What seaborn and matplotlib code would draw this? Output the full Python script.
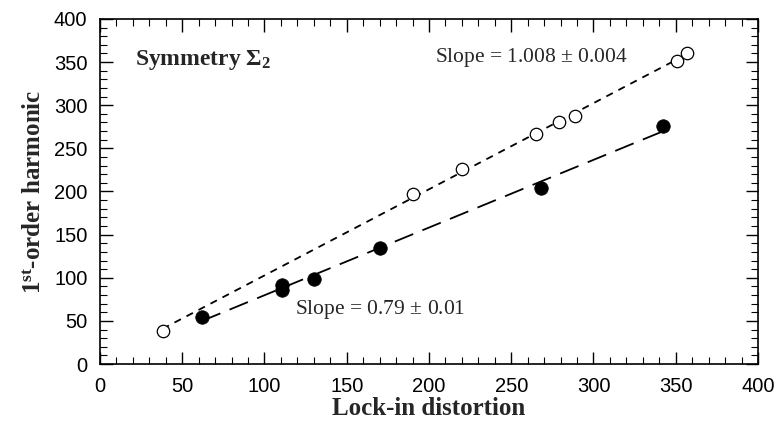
import matplotlib
matplotlib.use("Agg")
import matplotlib.pyplot as plt
import seaborn as sns
import numpy as np
import pandas as pd
from matplotlib.ticker import MultipleLocator

open_x = [38, 190, 220, 265, 279, 289, 351, 357]
open_y = [38, 197, 226, 267, 281, 288, 351, 361]
fill_x = [62, 110.5, 110.5, 130, 170, 268, 342]
fill_y = [54, 86, 92, 98, 135, 204, 276]
xticks = [0, 50, 100, 150, 200, 250, 300, 350, 400]
yticks = [0, 50, 100, 150, 200, 250, 300, 350, 400]

sns.set_theme(style="ticks")
plt.rcParams["font.family"] = ["Liberation Sans", "DejaVu Sans"]
plt.rcParams["mathtext.fontset"] = "custom"
plt.rcParams["mathtext.rm"] = "Liberation Serif"
plt.rcParams["mathtext.bf"] = "Liberation Serif:bold"
plt.rcParams["mathtext.it"] = "Liberation Serif:italic"

df_open = pd.DataFrame({"x": open_x, "y": open_y})
df_fill = pd.DataFrame({"x": fill_x, "y": fill_y})

fig = plt.figure(figsize=(7.77, 4.24), dpi=100)
ax = fig.add_axes([0.1287, 0.1415, 0.8468, 0.8137])

sns.regplot(data=df_open, x="x", y="y", ax=ax, ci=None, scatter=False,
            line_kws=dict(color="black", lw=1.3, dashes=(4, 3.5)))
sns.regplot(data=df_fill, x="x", y="y", ax=ax, ci=None, scatter=False,
            line_kws=dict(color="black", lw=1.3, dashes=(11, 5.5)))
sns.scatterplot(data=df_open, x="x", y="y", ax=ax, s=80, facecolor="white",
                edgecolor="black", linewidth=0.9, zorder=3)
sns.scatterplot(data=df_fill, x="x", y="y", ax=ax, s=95, color="black",
                edgecolor="black", linewidth=0.5, zorder=3)

ax.set_xlim(0, 400)
ax.set_ylim(0, 400)
ax.set_xticks(xticks)
ax.set_yticks(yticks)
ax.xaxis.set_minor_locator(MultipleLocator(10))
ax.yaxis.set_minor_locator(MultipleLocator(10))
ax.tick_params(which="both", direction="in", top=True, right=True, colors="black", labelsize=14.5)
ax.tick_params(axis="x", which="major", pad=9)
ax.tick_params(axis="y", which="major", pad=9)
ax.tick_params(which="major", length=9, width=1)
ax.tick_params(which="minor", length=5, width=0.8)
for sp in ax.spines.values():
    sp.set_linewidth(1.2)
    sp.set_color("black")

ax.set_xlabel("Lock-in distortion", fontfamily="Liberation Serif", fontweight="bold", fontsize=18, labelpad=1)
ax.set_ylabel(r"1$^{\mathbf{st}}$-order harmonic", fontfamily="Liberation Serif", fontweight="bold", fontsize=18, labelpad=6)

ax.text(0.053, 0.88, r"Symmetry $\mathbf{\Sigma}_{\mathbf{2}}$", transform=ax.transAxes,
        fontfamily="Liberation Serif", fontweight="bold", fontsize=17, va="center", ha="left")
ax.text(0.509, 0.887, r"Slope = 1.008 $\pm$ 0.004", transform=ax.transAxes,
        fontfamily="Liberation Serif", fontsize=15.5, va="center", ha="left")
ax.text(0.296, 0.157, r"Slope = 0.79 $\pm$ 0.01", transform=ax.transAxes,
        fontfamily="Liberation Serif", fontsize=15.5, va="center", ha="left")

fig.savefig("out.png", dpi=100)
